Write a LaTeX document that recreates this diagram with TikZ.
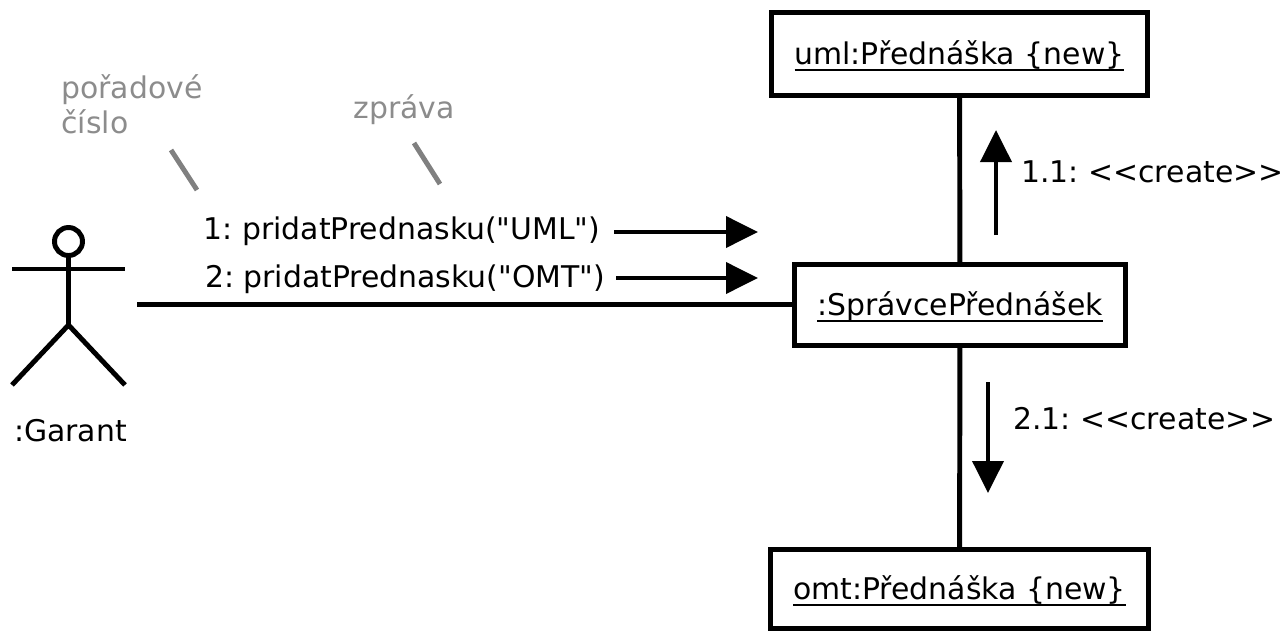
\documentclass[tikz,border=0pt]{standalone}
\usepackage{fontspec}
\newfontfamily\testofont{DejaVu Sans}
\usetikzlibrary{positioning}
\usetikzlibrary{arrows.meta}
\newcommand{\sott}[1]{\vtop{\hbox{\smash{#1}}\kern3pt\hrule height 1.9pt}}
\AtBeginDocument{\frenchspacing}
\begin{document}
\begin{tikzpicture}[x=0.75pt,y=-0.75pt,line width=3.7pt,align=center,
oggetto/.style={draw,line width=3.7pt,inner sep=0pt,text height=20pt,text depth=4pt,font=\testofont\fontsize{22.4}{26}\selectfont},
testo/.style={inner sep=0pt,font=\testofont\fontsize{22.4}{26}\selectfont},
nota/.style={inner sep=0pt,text=gray!90,font=\testofont\fontsize{22.4}{26}\selectfont,align=left},
freccia/.style={-{Triangle[length=24pt,width=23pt]},line width=3.7pt},
tacca/.style={gray,line width=3.7pt}
]
\useasboundingbox (0,0) rectangle (1281,632);
%--
\node[oggetto,minimum width=282pt,minimum height=62pt] (uml) at (959.5,54) {\sott{uml:Přednáška \{new\}}};
\node[oggetto,minimum width=284pt,minimum height=59pt] (omt) at (959.5,589) {\sott{omt:Přednáška \{new\}}};
\node[oggetto,minimum width=248pt,minimum height=61pt] (spravce) at (960,305) {\sott{:SprávcePřednášek}};
\draw (uml) -- (spravce);
\draw (spravce) -- (omt);
%--
\node[circle,draw,minimum size=21pt,inner sep=0pt] (hlava) at (68.5,241.5) {};
\coordinate (pas) at (68.5,325);
\coordinate (ruka1) at (12,269);
\coordinate (ruka2) at (125,269);
\coordinate (noha1) at (12,385);
\coordinate (noha2) at (125,385);
\draw (hlava) -- (pas);
\draw (ruka1) -- (ruka2);
\draw (noha1) -- (pas) -- (noha2);
\node[testo,below=24pt of pas |- noha1,xshift=1.5pt] (garant) {:Garant};
%--
\coordinate (kotva) at (137,304.5);
\draw (kotva) -- (spravce.west |- kotva);
%--
\node[testo] (msg1) at (402,231) {1: pridatPrednasku("UML")};
\node[testo] (msg2) at (405,279) {2: pridatPrednasku("OMT")};
\coordinate (m1a) at (614,232);
\coordinate (m1b) at (758,232);
\coordinate (m2a) at (616,278);
\coordinate (m2b) at (758,278);
\draw[freccia] (m1a) -- (m1b);
\draw[freccia] (m2a) -- (m2b);
%--
\node[testo,anchor=west] (create1) at (1019,172) {1.1: <{}<create>{}>};
\node[testo,anchor=west] (create2) at (1011,419) {2.1: <{}<create>{}>};
\coordinate (c1a) at (996,235);
\coordinate (c1b) at (996,130);
\coordinate (c2a) at (988,382);
\coordinate (c2b) at (988,493);
\draw[freccia] (c1a) -- (c1b);
\draw[freccia] (c2a) -- (c2b);
%--
\node[nota,anchor=north west] (poradi) at (59,72) {pořadové\\číslo};
\node[nota,anchor=west] (zprava) at (351,110) {zpráva};
\coordinate (t1a) at (171,150);
\coordinate (t1b) at (197,190);
\coordinate (t2a) at (414,143);
\coordinate (t2b) at (440,184);
\draw[tacca] (t1a) -- (t1b);
\draw[tacca] (t2a) -- (t2b);
\end{tikzpicture}
\end{document}
